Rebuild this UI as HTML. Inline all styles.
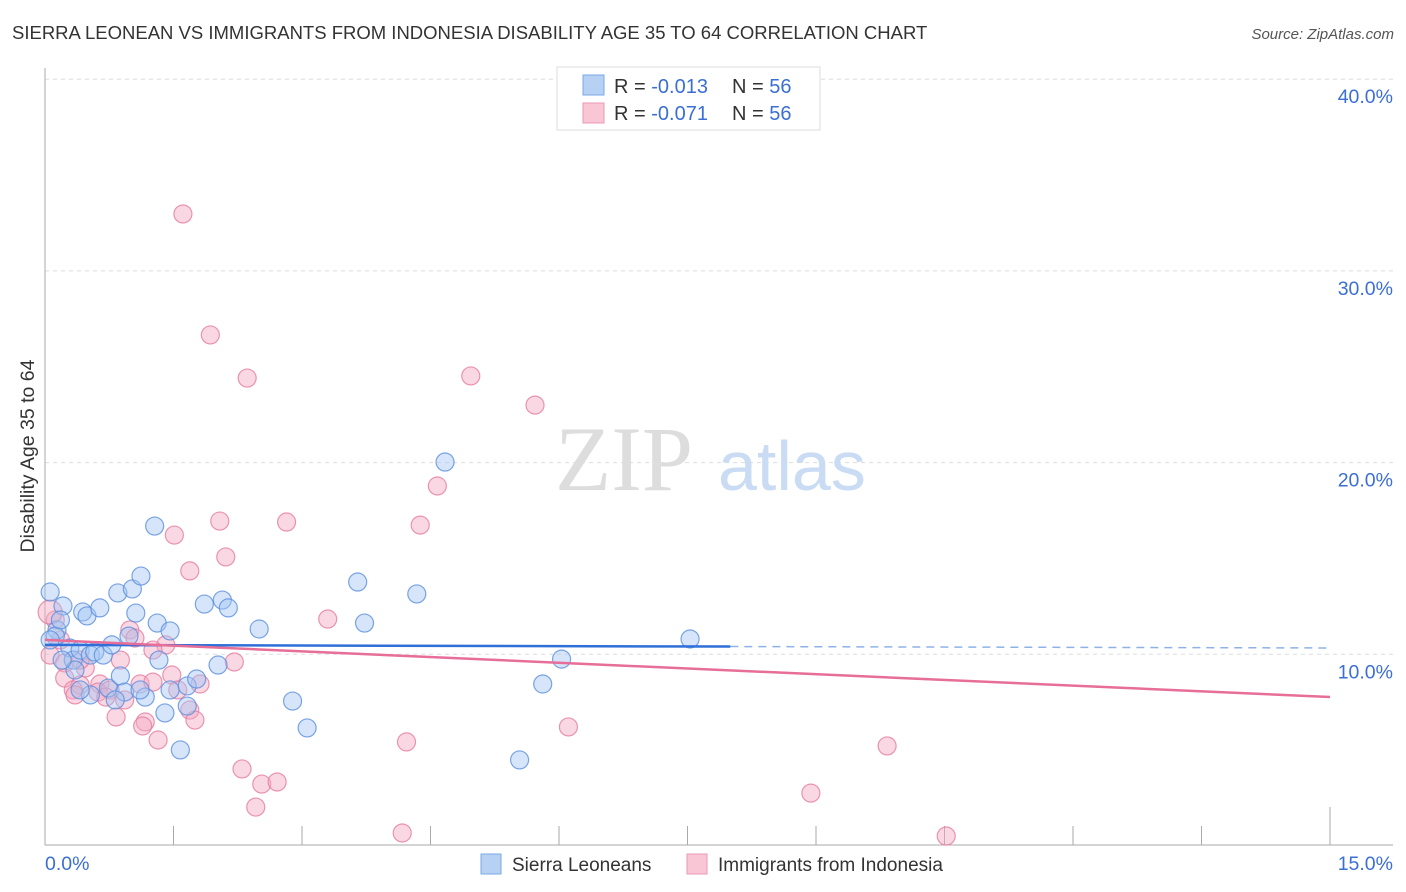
<!DOCTYPE html>
<html><head><meta charset="utf-8"><style>
body{margin:0;background:#fff;font-family:"Liberation Sans",sans-serif;}
svg{display:block}
</style></head><body>
<svg width="1406" height="892">
<text x="12" y="39" font-size="18.5" fill="#333">SIERRA LEONEAN VS IMMIGRANTS FROM INDONESIA DISABILITY AGE 35 TO 64 CORRELATION CHART</text>
<text x="1394" y="39" font-size="15" fill="#555" font-style="italic" text-anchor="end">Source: ZipAtlas.com</text>
<text x="34" y="456" font-size="19.5" fill="#333" text-anchor="middle" transform="rotate(-90 34 456)">Disability Age 35 to 64</text>
<g id="grid"></g>
<text x="555" y="490" font-size="92" fill="#ddd" font-family="Liberation Serif,serif">ZIP</text>
<text x="718" y="490" font-size="70" fill="#c9dcf3">atlas</text>
<g id="pts"></g>
<g id="trend"></g>
<g>
<rect x="557" y="67" width="263" height="63" fill="#fff" stroke="#ddd"/>
<rect x="583" y="75" width="21" height="20" fill="#b7d1f5" stroke="#7aa7e6"/>
<rect x="583" y="103" width="21" height="20" fill="#f9c6d5" stroke="#eb98b3"/>
<text x="614" y="93" font-size="20" fill="#333">R = <tspan fill="#3b6fd4">-0.013</tspan><tspan x="732">N = </tspan><tspan fill="#3b6fd4">56</tspan></text>
<text x="614" y="120" font-size="20" fill="#333">R = <tspan fill="#3b6fd4">-0.071</tspan><tspan x="732">N = </tspan><tspan fill="#3b6fd4">56</tspan></text>
</g>
<g>
<rect x="481" y="854" width="20" height="20" fill="#b7d1f5" stroke="#7aa7e6"/>
<text x="512" y="871" font-size="19" fill="#333">Sierra Leoneans</text>
<rect x="687" y="854" width="20" height="20" fill="#f9c6d5" stroke="#eb98b3"/>
<text x="718" y="871" font-size="19" fill="#333">Immigrants from Indonesia</text>
</g>
<text x="45" y="870" font-size="19.5" fill="#3b6fd4">0.0%</text>
<text x="1393" y="870" font-size="19.5" fill="#3b6fd4" text-anchor="end">15.0%</text>
</svg>
<script>
const yTicks=[10,20,30,40];
const blueX=[0.06,0.21,0.44,0.49,0.64,0.14,0.12,0.06,0.29,0.33,0.41,0.53,0.58,0.68,0.78,0.85,1.02,1.12,1.06,0.98,1.28,1.31,1.46,1.33,0.74,0.88,0.93,0.53,1.17,1.46,1.66,1.77,1.40,1.66,1.58,1.86,2.07,2.14,2.02,2.50,2.89,3.06,3.65,3.73,4.34,4.67,5.54,5.81,6.03,7.53,0.18,0.35,0.82,1.11,0.41,0.20];
const blueY=[13.25,12.52,12.21,12.0,12.42,11.27,10.95,10.75,10.33,9.70,10.22,9.96,10.12,9.96,10.49,13.20,13.41,14.08,12.15,10.95,16.69,11.63,11.22,9.70,8.24,8.87,8.03,7.88,7.77,8.14,8.35,8.71,6.94,7.30,5.01,12.62,12.83,12.42,9.44,11.32,7.56,6.16,13.77,11.63,13.15,20.03,4.49,8.45,9.75,10.80,11.79,9.18,7.62,8.14,8.14,9.70];
const pinkX=[1.61,1.93,2.36,4.97,5.72,4.58,2.04,2.82,4.38,1.51,2.11,1.69,3.30,0.99,1.05,1.41,1.26,0.88,2.21,0.12,0.18,0.06,0.23,0.47,0.23,0.64,0.41,0.33,0.62,0.35,0.76,1.11,1.26,1.48,1.81,1.55,0.71,0.93,1.69,1.75,0.83,1.17,1.14,1.32,2.30,2.53,2.71,2.46,4.17,4.22,6.11,8.94,9.83,10.52,0.06,0.41];
const pinkY=[32.97,26.66,24.41,24.52,23.0,18.78,16.95,16.9,16.74,16.22,15.08,14.35,11.84,11.27,10.85,10.49,10.22,9.70,9.60,11.79,10.75,9.96,9.55,9.29,8.76,8.45,8.40,8.14,8.03,7.88,8.14,8.45,8.55,8.92,8.45,8.14,7.77,7.62,7.09,6.57,6.73,6.47,6.26,5.53,4.02,3.23,3.34,2.03,0.68,5.43,6.21,2.76,5.22,0.52,12.2,9.7];
const blueTrend=[10.49,10.33];
const pinkTrend=[10.75,7.77];
const NS='http://www.w3.org/2000/svg';
const X=v=>45+v/15*1285, Y=v=>846-v*19.17;
function mk(t,a,p){const e=document.createElementNS(NS,t);for(const k in a)e.setAttribute(k,a[k]);p.appendChild(e);return e;}
const g=document.getElementById('grid');
yTicks.forEach(t=>{
 const l=mk('line',{x1:45,x2:1393,y1:Y(t),y2:Y(t),stroke:'#ddd','stroke-dasharray':'4 4'},g);
 
 
 const tx=mk('text',{x:1393,y:Y(t)+24,'font-size':19.5,fill:'#3b6fd4','text-anchor':'end'},g);
 tx.textContent=t.toFixed(1)+'%';
 
 
});
mk('line',{x1:45,x2:45,y1:68,y2:845,stroke:'#aaa'},g);
mk('line',{x1:45,x2:1393,y1:845,y2:845,stroke:'#aaa'},g);
for(let i=1;i<=10;i++){
 const tk=mk('line',{x1:X(i*1.5),x2:X(i*1.5),y1:i==10?807:826,y2:845,stroke:'#aaa'},g);
 
 
}
const p=document.getElementById('pts');
function dots(xs,ys,fill,st,name){xs.forEach((x,i)=>{
 const c=mk('circle',{cx:X(x),cy:Y(ys[i]),r:(i==xs.length-2&&name=='pink-point')?12:9,fill:fill,'fill-opacity':0.45,stroke:st,'stroke-opacity':0.8,'stroke-width':1.2},p);
 
 
});}
dots(pinkX,pinkY,'#f4a9c0','#e67c9f','pink-point');
dots(blueX,blueY,'#a5c6f2','#5b8ede','blue-point');
const tr=document.getElementById('trend');
const split=8.0;
const bm=blueTrend[0]+(blueTrend[1]-blueTrend[0])*split/15;
const b1=mk('line',{x1:X(0),y1:Y(blueTrend[0]),x2:X(split),y2:Y(bm),stroke:'#2f6fd8','stroke-width':2.5},tr);


const b2=mk('line',{x1:X(split),y1:Y(bm),x2:X(15),y2:Y(blueTrend[1]),stroke:'#8fb2e6','stroke-width':1.5,'stroke-dasharray':'8 6'},tr);


const p1=mk('line',{x1:X(0),y1:Y(pinkTrend[0]),x2:X(15),y2:Y(pinkTrend[1]),stroke:'#e66e98','stroke-width':2.5},tr);


</script>
</body></html>
